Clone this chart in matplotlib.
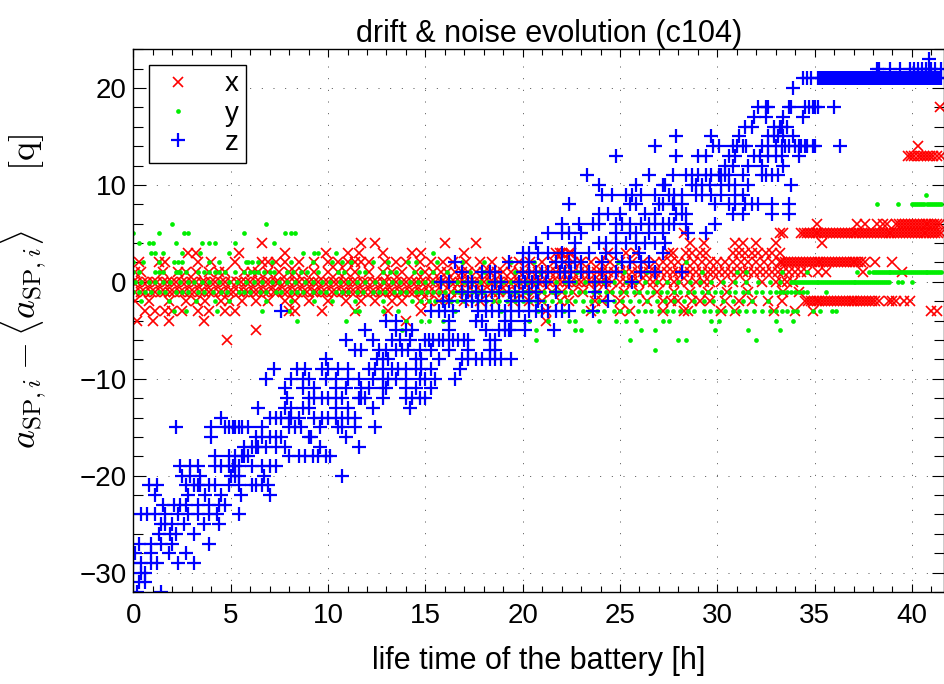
import numpy as np
import matplotlib
matplotlib.use("Agg")
import matplotlib.pyplot as plt
from matplotlib.ticker import MultipleLocator

plt.rcParams['font.family'] = ['Liberation Sans', 'DejaVu Sans']
plt.rcParams['mathtext.fontset'] = 'cm'

# readings are integer steps [q]; for every level the battery times [h] where it was seen
# x axis (red)
x_lv = [-6, -5, -4, -3, -2, -1, 0, 1, 2, 3, 4, 5, 6, 13, 14, 18]
x_t = [
    [4.8],
    [6.3],
    [0.2, 1.0, 1.8, 3.6, 14.0, 21.2],
    [0.6, 1.1, 1.6, 2.0, 2.5, 3.3, 3.9, 4.7, 5.2, 8.0, 8.3, 9.7, 11.4, 13.1, 14.8, 21.2, 23.5, 25.0,
     25.5, 27.2, 28.3, 28.5, 30.2, 30.9, 32.9, 34.0, 34.9, 41.0, 41.3],
    [0.1, 0.8, 1.8, 2.7, 3.2, 3.7, 4.5, 4.9, 5.6, 6.3, 6.9, 7.8, 8.3, 9.0, 10.0, 10.9, 11.7, 12.4,
     13.3, 13.8, 14.7, 15.2, 15.7, 16.2, 17.0, 17.8, 18.6, 19.5, 20.3, 21.0, 21.9, 22.4, 23.7, 24.1,
     25.0, 26.4, 27.2, 27.6, 28.0, 28.7, 29.1, 29.6, 30.4, 31.1, 31.8, 32.6, 33.3,
     34.5, 34.65, 34.8, 34.95, 35.1, 35.25, 35.4, 35.55, 35.7, 35.85, 36.0, 36.15, 36.3, 36.45,
     36.6, 36.75, 36.9, 37.05, 37.2, 37.35, 37.5, 37.65, 37.8, 37.95, 38.1, 38.3, 38.8, 39.0,
     39.2, 39.6, 39.9],
    [0.1, 0.4, 0.6, 0.9, 1.1, 1.4, 1.6, 1.9, 2.1, 2.4, 2.6, 2.9, 3.1, 3.4, 3.6, 3.9, 4.1, 4.4, 4.6,
     4.9, 5.1, 5.4, 5.7, 5.9, 6.2, 6.4, 6.7, 6.9, 7.2, 7.4, 7.7, 7.9, 8.2, 8.4, 8.7, 8.9, 9.2, 9.4,
     9.7, 9.9, 10.2, 10.4, 10.7, 10.9, 11.2, 11.4, 11.7, 11.9, 12.2, 12.4, 12.7, 12.9, 13.2, 13.4,
     13.7, 13.9, 14.2, 14.4, 14.7, 14.9, 15.2, 15.5, 15.9, 16.3, 16.7, 17.1, 17.5, 17.9, 18.4,
     18.8, 19.2, 19.7, 20.1, 20.6, 21.0, 21.5, 22.0, 22.6, 23.1, 23.8, 24.5, 25.2, 26.0, 26.9,
     27.8, 28.6, 29.5, 30.5, 31.6, 33.4, 34.2],
    [0.0, 0.2, 0.5, 0.7, 1.0, 1.2, 1.5, 1.7, 2.0, 2.2, 2.5, 2.7, 3.0, 3.2, 3.5, 3.7, 4.0, 4.2, 4.5,
     4.7, 5.0, 5.3, 5.5, 5.8, 6.0, 6.3, 6.5, 6.8, 7.0, 7.3, 7.5, 7.8, 8.0, 8.3, 8.5, 8.8, 9.0, 9.3,
     9.5, 9.8, 10.0, 10.3, 10.5, 10.8, 11.0, 11.3, 11.5, 11.8, 12.0, 12.3, 12.5, 12.8, 13.0, 13.3,
     13.5, 13.8, 14.0, 14.3, 14.5, 14.8, 15.0, 15.3, 15.5, 15.8, 16.0, 16.3, 16.5, 16.8, 17.0,
     17.3, 17.5, 17.8, 18.0, 18.3, 18.5, 18.8, 19.0, 19.3, 19.5, 19.8, 20.0, 20.3, 20.5, 20.8,
     21.0, 21.3, 21.5, 21.8, 22.0, 22.3, 22.5, 22.8, 23.0, 23.3, 23.5, 23.8, 24.0, 24.3, 24.6,
     25.0, 25.3, 25.6, 26.0, 26.4, 26.7, 27.0, 27.4, 27.8, 28.1, 28.5, 28.9, 29.3, 29.6, 30.2,
     30.8, 31.5, 32.3, 33.0, 33.3, 33.6, 33.9],
    [0.1, 0.4, 1.5, 2.3, 2.7, 3.2, 3.9, 4.4, 4.7, 5.7, 6.1, 6.4, 6.9, 7.5, 8.0, 8.3, 8.7, 9.3,
     10.0, 10.5, 10.9, 11.4, 12.1, 12.8, 13.3, 13.8, 14.5, 15.0, 15.4, 15.8, 16.1, 16.5, 16.9,
     17.2, 17.6, 18.0, 18.3, 18.7, 19.0, 19.4, 19.8, 20.1, 20.5, 20.8, 21.1, 21.4, 21.7, 22.0,
     22.3, 22.6, 22.9, 23.2, 23.5, 23.8, 24.1, 24.4, 24.7, 25.0, 25.3, 25.6, 25.9, 26.2, 26.5,
     26.8, 27.1, 27.4, 27.7, 28.0, 28.3, 28.6, 28.9, 29.2, 29.5, 29.8, 30.1, 30.4, 30.7, 31.0,
     31.3, 31.6, 31.9, 32.2, 32.5, 32.8, 33.1, 33.4, 33.7, 34.0, 34.3, 34.6, 35.2, 35.6, 37.5,
     39.5],
    [0.3, 1.3, 1.6, 3.3, 4.0, 5.2, 6.6, 6.9, 7.3, 7.8, 8.5, 9.3, 10.0, 10.5, 11.0, 11.4, 11.7,
     12.1, 12.9, 13.5, 14.0, 14.7, 15.3, 15.9, 16.4, 17.1, 17.8, 18.4, 19.2, 19.8, 20.4, 21.0,
     21.6, 22.1, 22.6, 23.0, 23.5, 24.0, 24.5, 25.0, 25.6, 26.2, 26.8, 27.2, 27.6, 28.0, 28.4,
     28.8, 29.2, 29.6, 30.0, 30.4, 30.8, 31.2, 31.6, 32.0, 32.4, 32.8, 33.2, 33.35, 33.5, 33.65,
     33.8, 33.95, 34.1, 34.25, 34.4, 34.55, 34.7, 34.85, 35.0, 35.15, 35.3, 35.45, 35.6, 35.75,
     35.9, 36.05, 36.2, 36.35, 36.5, 36.65, 36.8, 36.95, 37.1, 37.25, 37.4, 37.6, 38.1, 39.0],
    [2.8, 3.2, 5.4, 7.8, 9.9, 11.0, 11.6, 12.8, 14.3, 14.8, 17.0, 21.7, 21.9, 22.0, 22.4, 22.5,
     24.4, 25.3, 25.8, 27.5, 27.7, 28.4, 28.7, 29.1, 29.4, 30.8, 31.1, 31.4, 31.8, 32.1, 32.5,
     32.8, 33.2],
    [6.6, 11.7, 12.4, 16.0, 17.6, 28.6, 29.3, 30.9, 31.3, 32.0, 33.0, 35.4],
    [28.3, 33.2, 33.4, 34.3, 34.45, 34.6, 34.75, 34.9, 35.05, 35.2, 35.35, 35.5, 35.65, 35.8,
     35.95, 36.1, 36.25, 36.4, 36.55, 36.7, 36.85, 37.0, 37.15, 37.3, 37.45, 37.6, 37.75, 37.9,
     38.05, 38.2, 38.35, 38.5, 38.65, 38.8, 38.95, 39.1, 39.25, 39.4, 39.55, 39.7, 39.85, 40.0,
     40.15, 40.3, 40.45, 40.6, 40.75, 40.9, 41.05, 41.2, 41.35, 41.5],
    [35.1, 37.2, 37.6, 38.2, 38.5, 38.7, 39.2, 39.35, 39.5, 39.65, 39.8, 39.95, 40.1, 40.25,
     40.4, 40.55, 40.7, 40.85, 41.0, 41.15, 41.3, 41.45],
    [39.8, 39.95, 40.1, 40.3, 40.45, 40.6, 40.8, 40.95, 41.1, 41.3, 41.5],
    [40.3],
    [41.45],
]

# y axis (green)
y_lv = [-7, -6, -5, -4, -3, -2, -1, 0, 1, 2, 3, 4, 5, 6, 8, 9]
y_t = [
    [26.8],
    [20.7, 25.5, 28.0, 28.4, 32.0],
    [13.8, 20.7, 22.7, 23.0, 26.1, 26.8, 29.9, 31.6, 33.2],
    [8.4, 10.9, 14.0, 14.8, 15.2, 15.9, 20.3, 21.3, 22.4, 22.7, 23.9, 24.8, 25.3, 25.8, 27.2,
     27.5, 29.7, 30.1, 33.0, 33.9],
    [2.1, 2.7, 4.3, 6.6, 8.0, 11.4, 11.6, 12.8, 13.6, 16.5, 18.9, 20.8, 22.1, 23.1, 23.4, 23.8,
     24.2, 24.7, 25.0, 25.4, 25.9, 26.3, 26.6, 27.0, 27.4, 27.7, 28.1, 28.5, 28.8, 29.3, 29.6,
     30.0, 30.4, 30.8, 31.1, 31.5, 31.9, 32.3, 32.7, 33.0, 33.3, 33.6, 33.9, 34.1, 34.9, 35.3,
     35.9, 36.1],
    [0.4, 1.8, 3.2, 4.2, 4.9, 6.8, 8.1, 9.3, 10.2, 11.4, 12.8, 14.3, 14.8, 15.2, 15.5, 15.9,
     16.3, 16.6, 17.0, 17.4, 17.7, 18.1, 18.5, 18.8, 19.2, 19.6, 20.0, 20.4, 20.7, 21.1, 21.5,
     21.9, 22.3, 22.7, 23.1, 23.5, 23.9, 24.3, 24.7, 25.1, 25.5, 26.0, 26.4, 26.9, 27.3, 27.8,
     28.3, 28.8, 29.3, 29.8, 30.3, 30.8, 31.3, 31.8, 32.6],
    [0.0, 0.3, 0.6, 0.9, 1.3, 1.6, 2.2, 2.5, 2.8, 3.3, 3.6, 4.1, 4.5, 4.8, 5.4, 5.7, 6.0, 6.5,
     6.8, 7.3, 7.6, 8.1, 8.4, 8.7, 9.2, 9.6, 9.9, 10.4, 10.7, 11.0, 11.5, 11.8, 12.3, 12.6, 12.9,
     13.4, 13.7, 14.0, 14.5, 14.8, 15.1, 15.4, 15.7, 16.0, 16.4, 16.7, 17.0, 17.4, 17.7, 18.0,
     18.4, 18.7, 19.0, 19.4, 19.7, 20.1, 20.4, 20.8, 21.1, 21.5, 21.8, 22.2, 22.5, 22.9, 23.2,
     23.6, 23.9, 24.3, 24.6, 25.0, 25.3, 25.7, 26.0, 26.4, 26.7, 27.1, 27.4, 27.8, 28.1, 28.5,
     28.8, 29.2, 29.5, 29.9, 30.2, 30.6, 30.9, 31.3, 31.6, 32.0, 32.3, 32.7, 33.0, 33.2, 33.4,
     33.6, 33.8, 34.0, 34.2, 34.4, 34.6, 35.6],
    [0.1, 0.4, 0.8, 1.1, 1.5, 1.9, 2.4, 2.8, 3.1, 3.5, 3.9, 4.4, 4.9, 5.3, 5.8, 6.2, 6.6, 7.1,
     7.5, 7.9, 8.3, 8.8, 9.2, 9.7, 10.1, 10.6, 11.0, 11.5, 11.9, 12.4, 12.8, 13.3, 13.7, 14.2,
     14.6, 15.0, 15.4, 15.8, 16.2, 16.6, 17.0, 17.4, 17.8, 18.2, 18.6, 19.0, 19.4, 19.8, 20.2,
     20.7, 21.2, 21.7, 22.2, 22.7, 23.2, 23.7, 24.2, 24.7, 25.3, 25.8, 26.3, 26.9, 27.4, 28.0,
     28.6, 29.1, 29.7, 30.3, 30.9, 31.5, 32.1, 32.7, 33.2, 33.8, 33.9, 34.0, 34.1, 34.2, 34.3,
     34.4, 34.5, 34.6, 34.7, 34.8, 34.9, 35.0, 35.1, 35.2, 35.3, 35.4, 35.5, 35.6, 35.7, 35.8,
     35.9, 36.0, 36.1, 36.2, 36.3, 36.4, 36.5, 36.6, 36.7, 36.8, 36.9, 37.0, 37.1, 37.2, 37.3,
     37.4, 37.5, 37.6, 37.7, 37.8, 37.9, 38.0, 38.1, 38.2, 38.3, 38.4, 38.5, 38.6, 38.7, 38.8,
     39.3, 39.5, 40.0],
    [0.0, 0.3, 1.1, 1.3, 1.5, 2.2, 2.3, 2.4, 2.7, 3.3, 3.6, 3.9, 4.2, 4.4, 4.7, 5.2, 5.7, 6.0,
     6.2, 6.4, 6.7, 7.0, 7.2, 7.9, 8.2, 8.6, 8.9, 9.5, 10.5, 10.8, 11.6, 11.9, 12.8, 13.2, 13.5,
     14.4, 14.8, 15.4, 16.1, 17.3, 18.0, 19.6, 20.9, 22.8, 25.2, 26.4, 29.2, 31.0, 31.5, 33.3,
     34.6, 37.2, 37.8, 38.0, 38.1, 38.2, 38.3, 38.4, 38.5, 38.6, 38.7, 38.8, 38.9, 39.0, 39.1,
     39.2, 39.3, 39.4, 39.5, 39.6, 39.7, 39.8, 39.9, 40.0, 40.1, 40.2, 40.3, 40.4, 40.5, 40.6,
     40.7, 40.8, 40.9, 41.0, 41.1, 41.2, 41.3, 41.4, 41.5],
    [0.0, 0.5, 1.3, 2.1, 2.3, 2.5, 3.9, 4.4, 5.8, 5.9, 6.1, 6.4, 7.1, 8.1, 9.2, 10.2, 10.7, 11.2,
     12.3, 13.1, 14.1, 14.5, 15.6, 16.9, 18.0, 19.4, 20.6, 24.9, 28.4],
    [0.9, 1.1, 1.5, 2.5, 3.4, 4.9, 8.7, 9.3, 9.5, 10.4, 15.4],
    [0.3, 0.8, 1.0, 2.2, 3.5, 3.9, 4.2, 5.2, 7.2],
    [0.0, 1.3, 2.6, 2.8, 5.7, 7.8, 8.1, 8.3],
    [2.0, 6.8],
    [38.2, 39.3, 40.0, 40.1, 40.2, 40.3, 40.4, 40.5, 40.6, 40.8, 40.9, 41.0, 41.1, 41.2, 41.3,
     41.4, 41.5],
    [40.7],
]

# z axis (blue)
z_lv = list(range(-32, 19)) + [20, 21, 22, 23]
z_t = [
    [0.2, 1.4],
    [0.3, 0.6],
    [0.4, 0.6],
    [0.0, 0.4, 0.9, 1.2, 2.3, 3.1],
    [0.1, 0.9, 1.8, 2.7],
    [0.3, 0.9, 1.4, 2.0, 3.9],
    [1.3, 1.9, 2.2, 3.1],
    [1.4, 1.6, 2.0, 2.6, 3.6, 4.4],
    [0.4, 0.7, 1.1, 1.6, 2.3, 2.8, 3.3, 3.9, 4.3, 5.4],
    [1.5, 2.1, 2.4, 2.7, 3.3, 3.9, 4.4, 4.7],
    [1.1, 2.8, 3.7, 4.5, 5.5, 7.0],
    [0.8, 1.2, 2.7, 3.1, 3.3, 3.4, 3.9, 4.2, 4.9, 5.4, 6.1, 6.3, 6.6, 6.9],
    [2.5, 2.9, 3.4, 5.0, 5.2, 5.4, 6.7, 10.7],
    [2.4, 2.9, 3.3, 4.2, 4.5, 4.9, 5.1, 5.2, 5.4, 6.1, 6.6, 7.0, 7.3],
    [4.2, 4.9, 5.2, 5.6, 5.7, 5.9, 8.0, 8.5, 8.8, 9.2, 9.5, 9.9, 10.1],
    [5.7, 6.1, 6.3, 6.4, 6.8, 7.3, 7.8, 9.6, 11.6],
    [4.0, 6.3, 6.6, 7.0, 7.3, 7.6, 9.0, 9.1, 10.9],
    [2.2, 4.0, 4.7, 4.9, 5.1, 5.2, 5.4, 5.6, 5.9, 6.6, 8.0, 8.3, 8.6, 9.6, 10.5, 10.7, 11.4, 12.4],
    [4.5, 7.0, 7.3, 7.6, 8.0, 8.1, 8.5, 9.3, 9.7, 10.0, 10.4, 10.7, 11.0, 11.4],
    [6.4, 7.8, 8.1, 8.7, 9.0, 10.4, 11.0, 12.3, 14.2],
    [7.9, 9.0, 9.3, 9.7, 10.0, 10.4, 10.7, 11.6, 11.7, 11.9, 12.8, 14.0, 14.3, 14.7, 15.0],
    [7.8, 8.7, 9.3, 10.4, 10.9, 11.7, 12.1, 12.8, 13.0, 14.0, 14.5, 15.3],
    [6.8, 8.1, 8.7, 9.0, 9.9, 10.4, 11.0, 11.6, 12.3, 12.8, 13.1, 13.5, 14.0, 14.7, 15.0, 15.5, 16.5],
    [7.2, 8.4, 8.8, 9.7, 10.0, 10.5, 11.0, 12.1, 12.4, 12.8, 13.3, 13.6, 14.0, 14.5, 14.8, 15.3, 16.8],
    [9.9, 12.5, 12.8, 13.1, 14.5, 14.8, 15.7, 16.9, 17.2, 17.6, 17.9, 18.3, 18.6, 18.9, 19.4],
    [11.4, 11.7, 12.6, 13.0, 13.5, 13.8, 14.1, 14.7, 15.3, 16.2, 17.2, 18.3, 18.6],
    [10.9, 12.3, 13.3, 13.7, 14.2, 15.0, 15.2, 15.4, 15.7, 15.9, 16.2, 16.4, 16.7, 17.0, 17.2, 18.3, 18.6],
    [11.9, 13.5, 14.0, 14.3, 16.2, 18.1, 18.8, 19.1, 19.3, 19.4, 20.1, 21.6],
    [13.0, 13.5, 16.2, 17.6, 17.9, 19.1, 19.4, 20.1],
    [7.6, 15.3, 15.7, 16.0, 16.4, 17.7, 18.1, 18.4, 18.8, 19.1, 19.4, 19.8, 20.3, 20.7, 21.0,
     21.3, 21.7, 22.0, 22.4, 23.6],
    [15.9, 16.2, 17.1, 17.4, 17.7, 18.1, 19.4, 19.8, 20.3, 20.8, 24.4],
    [16.9, 17.2, 17.6, 17.9, 18.4, 18.8, 19.3, 19.6, 20.0, 20.3, 20.7, 21.7, 23.7],
    [15.8, 16.2, 17.2, 17.4, 18.6, 18.9, 19.8, 20.1, 20.5, 20.8, 21.2, 22.4, 23.7, 24.3, 25.6],
    [16.9, 17.9, 18.3, 18.6, 20.0, 20.3, 20.7, 21.0, 21.3, 21.9, 22.2, 22.5, 23.0, 23.4, 24.1,
     24.8, 26.1, 26.8, 28.2],
    [16.5, 19.3, 20.0, 20.3, 21.7, 22.0, 22.4, 22.7, 23.0, 24.1, 25.1, 25.5, 26.1, 26.5],
    [20.0, 20.3, 20.8, 21.3, 22.0, 22.7, 23.4, 24.3, 24.8, 26.0, 27.2],
    [20.7, 22.7, 23.9, 24.3, 24.8, 25.3, 25.8, 26.3, 26.8, 27.3],
    [21.3, 22.0, 22.4, 23.0, 24.8, 25.5, 25.8, 26.5, 27.2, 28.5, 29.4],
    [22.0, 22.9, 23.6, 23.9, 24.8, 25.1, 25.5, 26.1, 26.5, 26.8, 27.2, 27.5, 27.8, 28.4, 29.9],
    [23.9, 24.4, 25.0, 26.3, 26.8, 27.9, 28.2, 28.4, 30.8, 31.3, 32.8, 33.7],
    [22.4, 25.5, 25.8, 27.0, 27.2, 27.7, 27.8, 28.2, 29.9, 30.6, 30.9, 31.4, 31.8, 32.1, 32.8, 33.7],
    [24.1, 24.6, 25.3, 25.6, 26.1, 26.8, 27.5, 27.8, 28.2, 28.9, 29.2, 29.7, 30.2, 30.9, 31.3],
    [23.9, 25.8, 27.2, 27.3, 28.7, 28.9, 29.2, 29.6, 30.2, 30.6, 30.9, 31.6, 33.8],
    [23.3, 26.5, 27.7, 28.4, 28.7, 29.0, 29.4, 29.7, 30.1, 30.2, 30.4, 30.6, 31.3, 32.3, 32.5,
     32.8, 33.1],
    [30.4, 30.8, 31.6, 32.3, 33.4],
    [24.8, 27.9, 29.0, 29.4, 30.6, 30.9, 31.9, 32.2, 32.6, 33.0, 33.3, 34.2],
    [26.8, 29.8, 30.1, 30.8, 31.0, 31.3, 31.5, 32.3, 32.6, 33.0, 33.3, 33.5, 33.7, 34.0, 34.2,
     34.3, 34.5, 34.6, 34.9, 35.0, 36.3],
    [27.9, 29.7, 31.1, 32.6, 32.9, 33.1, 33.4, 33.9],
    [31.4, 31.8, 32.9, 33.2, 33.3, 33.6],
    [31.9, 32.5, 33.4, 34.4],
    [32.1, 32.5, 32.6, 33.7, 33.8, 34.5, 34.7, 34.9, 35.0, 35.2, 36.0],
    [33.9],
    [34.4, 34.6, 34.8, 35.2, 35.3, 35.4, 35.5, 35.6, 35.7, 35.8, 35.9, 36.0, 36.1, 36.2, 36.3,
     36.4, 36.5, 36.6, 36.7, 36.8, 36.9, 37.0, 37.1, 37.2, 37.3, 37.4, 37.5, 37.6, 37.7, 37.8,
     37.9, 38.0, 38.1, 38.2, 38.3, 38.4, 38.5, 38.6, 38.7, 38.8, 38.9, 39.0, 39.1, 39.2, 39.3,
     39.4, 39.5, 39.6, 39.7, 39.8, 39.9, 40.0, 40.1, 40.2, 40.3, 40.4, 40.5, 40.6, 40.7, 40.8,
     40.9, 41.0, 41.1, 41.2, 41.3, 41.4, 41.5],
    [38.2, 38.3, 38.9, 39.4, 39.9, 40.1, 40.3, 40.5, 40.7, 40.9, 41.0, 41.2, 41.5],
    [40.9],
]


def flatten(levels, times):
    t = np.concatenate([np.asarray(ts, dtype=float) for ts in times])
    v = np.concatenate([np.full(len(ts), lv, dtype=float) for lv, ts in zip(levels, times)])
    return t, v


xt, xv = flatten(x_lv, x_t)
yt, yv = flatten(y_lv, y_t)
zt, zv = flatten(z_lv, z_t)

fig = plt.figure(figsize=(9.44, 6.84), dpi=100)
ax = fig.add_axes([0.1414, 0.1345, 0.8586, 0.7935])

ax.plot(xt, xv, 'x', color='r', ms=7.5, mew=1.2, label='x')
ax.plot(yt, yv, 'o', color='#00ee00', ms=3.4, mew=0, label='y')
ax.plot(zt, zv, '+', color='b', ms=10.5, mew=1.6, label='z')

ax.set_xlim(0, 41.65)
ax.set_ylim(-32, 24)
ax.xaxis.set_major_locator(MultipleLocator(5))
ax.xaxis.set_minor_locator(MultipleLocator(1))
ax.yaxis.set_major_locator(MultipleLocator(10))
ax.yaxis.set_minor_locator(MultipleLocator(2))
ax.tick_params(which='both', direction='in', top=True, right=True, labelsize=20, width=0.8)
ax.tick_params(axis='x', which='major', length=6, pad=8)
ax.tick_params(axis='x', which='minor', length=4)
ax.tick_params(axis='y', which='major', length=9, pad=5)
ax.tick_params(axis='y', which='minor', length=7)
for s in ax.spines.values():
    s.set_linewidth(1.0)
ax.grid(True, which='major', color='0.3', linewidth=0.7, linestyle=(0, (1, 11)))

ax.set_title('drift & noise evolution (c104)', fontsize=22, x=0.513, pad=2)
ax.set_xlabel('life time of the battery [h]', fontsize=22, labelpad=12)
ax.set_ylabel(r'$a_{\mathrm{SP},i} - \langle a_{\mathrm{SP},i}\rangle \quad\;\;\; [\mathrm{q}]$',
              fontsize=26)
ax.yaxis.set_label_coords(-0.105, 0.553)

leg = ax.legend(loc='upper left', fontsize=20, fancybox=False, edgecolor='k', framealpha=1,
                borderaxespad=0.55, handlelength=1.6, handletextpad=0.9, labelspacing=0.12,
                borderpad=0.25)
leg.get_frame().set_linewidth(1.0)

fig.savefig('out.png', dpi=100)
